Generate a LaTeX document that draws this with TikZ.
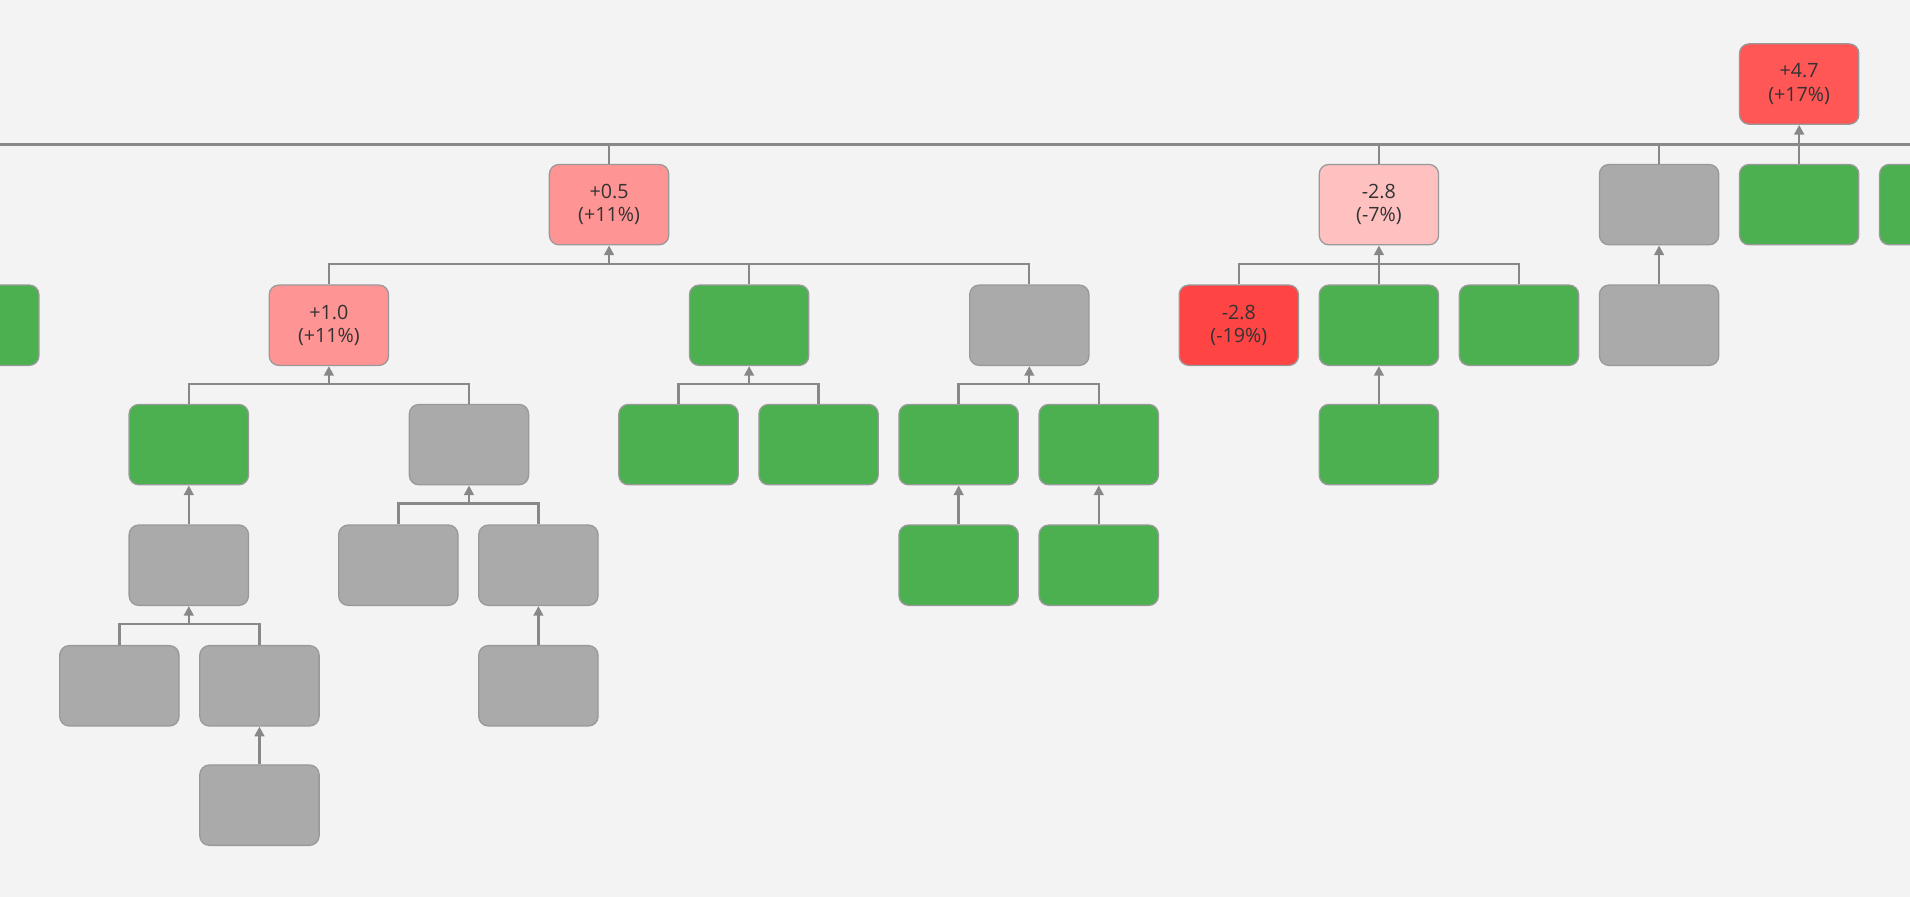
\documentclass[tikz,border=0pt]{standalone}
\usepackage{fontspec}
\setmainfont{Open Sans}
\usetikzlibrary{arrows.meta}
\definecolor{bg}{HTML}{F3F3F3}
\definecolor{gr}{HTML}{4CAF50}
\definecolor{gy}{HTML}{AAAAAA}
\definecolor{ln}{HTML}{888888}
\definecolor{bd}{HTML}{999999}
\definecolor{txt}{HTML}{333333}
\definecolor{r1}{HTML}{FF5656}
\definecolor{r2}{HTML}{FF9494}
\definecolor{r3}{HTML}{FFC0C0}
\definecolor{r4}{HTML}{FF4444}
\begin{document}
\begin{tikzpicture}[x=0.02cm,y=-0.02cm,
 b/.style={draw=bd,line width=0.6pt,rounded corners=4.5pt,minimum width=1.96cm,minimum height=1.32cm,inner sep=0pt,align=center,font=\fontsize{9.2}{11}\selectfont,text=txt},
 G/.style={b,fill=gr}, Y/.style={b,fill=gy},
 e/.style={draw=ln,line width=1.1pt},
 a/.style={e,-{Triangle[length=4.5pt,width=4.5pt]}}]
\useasboundingbox (0,0) rectangle (1568,736);
\fill[bg] (0,0) rectangle (1568,736);
\clip (0,0) rectangle (1568,736);
\draw[e,line width=1.4pt] (0,119) -- (1568,119);
% row1
\node[b,fill=r1] (top) at (1477,69) {+4.7\\(+17\%)};
% row2
\node[b,fill=r2] (a) at (500,168) {+0.5\\(+11\%)};
\node[b,fill=r3] (b) at (1132,168) {-2.8\\(-7\%)};
\node[Y] (c) at (1362,168) {};
\node[G] (d) at (1477,168) {};
\node[G] (f) at (1592,168) {};
\draw[e] (a.north) -- (a.north |- 0,119);
\draw[e] (b.north) -- (b.north |- 0,119);
\draw[e] (c.north) -- (c.north |- 0,119);
\draw[a] (d.north) -- (top.south);
% row3
\node[G] (l) at (-17,267) {};
\node[b,fill=r2] (a1) at (270,267) {+1.0\\(+11\%)};
\node[G] (a2) at (615,267) {};
\node[Y] (a3) at (845,267) {};
\node[b,fill=r4] (b1) at (1017,267) {-2.8\\(-19\%)};
\node[G] (b2) at (1132,267) {};
\node[G] (b3) at (1247,267) {};
\node[Y] (c1) at (1362,267) {};
\draw[e] (a1.north) -- ++(0,-17) coordinate (k1) -| (a3.north);
\draw[e] (a2.north) -- ++(0,-17);
\draw[a] (k1 -| a.south) -- (a.south);
\draw[e] (b1.north) -- ++(0,-17) -| (b3.north);
\draw[a] (b2.north) -- (b.south);
\draw[a] (c1.north) -- (c.south);
% row4
\node[G] (a11) at (155,365) {};
\node[Y] (a12) at (385,365) {};
\node[G] (a21) at (557,365) {};
\node[G] (a22) at (672,365) {};
\node[G] (a31) at (787,365) {};
\node[G] (a32) at (902,365) {};
\node[G] (b21) at (1132,365) {};
\draw[e] (a11.north) -- ++(0,-16) coordinate (k2) -| (a12.north);
\draw[a] (k2 -| a1.south) -- (a1.south);
\draw[e] (a21.north) -- ++(0,-16) coordinate (k3) -| (a22.north);
\draw[a] (k3 -| a2.south) -- (a2.south);
\draw[e] (a31.north) -- ++(0,-16) coordinate (k4) -| (a32.north);
\draw[a] (k4 -| a3.south) -- (a3.south);
\draw[a] (b21.north) -- (b2.south);
% row5
\node[Y] (a111) at (155,464) {};
\node[Y] (a121) at (327,464) {};
\node[Y] (a122) at (442,464) {};
\node[G] (a311) at (787,464) {};
\node[G] (a321) at (902,464) {};
\draw[a] (a111.north) -- (a11.south);
\draw[e] (a121.north) -- ++(0,-17) coordinate (k5) -| (a122.north);
\draw[a] (k5 -| a12.south) -- (a12.south);
\draw[a] (a311.north) -- (a31.south);
\draw[a] (a321.north) -- (a32.south);
% row6
\node[Y] (x1) at (98,563) {};
\node[Y] (x2) at (213,563) {};
\node[Y] (x3) at (442,563) {};
\draw[e] (x1.north) -- ++(0,-17) coordinate (k6) -| (x2.north);
\draw[a] (k6 -| a111.south) -- (a111.south);
\draw[a] (x3.north) -- (a122.south);
% row7
\node[Y] (y1) at (213,661) {};
\draw[a] (y1.north) -- (x2.south);
\end{tikzpicture}
\end{document}
